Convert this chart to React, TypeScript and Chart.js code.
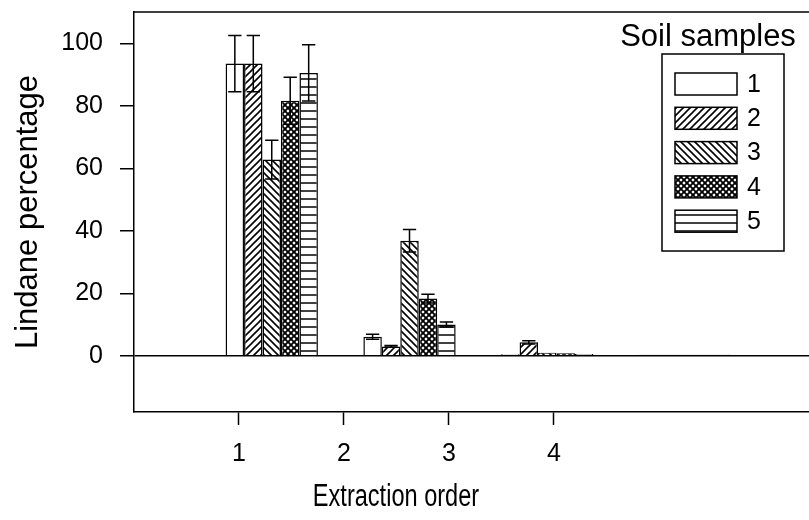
import React, { useEffect, useRef } from 'react';
import { Chart, registerables } from 'chart.js';

Chart.register(...registerables);

// ---- data ----
const extractionOrders = [1, 2, 3, 4];
const sampleLabels = ['1', '2', '3', '4', '5'];
const sample1 = [93.5, 6.1, 0.5, 0.3];
const sample2 = [93.5, 3.0, 4.3, 0.3];
const sample3 = [62.8, 36.8, 1.0, 0.3];
const sample4 = [81.6, 18.3, 0.8, 0.3];
const sample5 = [90.5, 10.0, 0.6, 0.3];
const err1 = [9.0, 0.8, 0, 0];
const err2 = [9.0, 0.3, 0.5, 0];
const err3 = [6.2, 3.6, 0, 0];
const err4 = [7.5, 1.4, 0, 0];
const err5 = [9.0, 0.8, 0, 0];
const yTicks = [0, 20, 40, 60, 80, 100];
const xTicks = [1, 2, 3, 4];
const yTitle = 'Lindane percentage';
const xTitle = 'Extraction order';
const legendTitle = 'Soil samples';

const FONT = "'Liberation Sans', Arial, Helvetica, sans-serif";

function makePattern(kind: number): CanvasPattern | string {
  if (kind === 1) return '#ffffff';
  const c = document.createElement('canvas');
  const s = kind === 5 ? 8 : kind === 4 ? 6 : 7;
  c.width = s;
  c.height = s;
  const g = c.getContext('2d')!;
  g.fillStyle = '#ffffff';
  g.fillRect(0, 0, s, s);
  g.strokeStyle = '#000000';
  g.lineCap = 'square';
  g.beginPath();
  if (kind === 2) {
    g.lineWidth = 1.6;
    g.moveTo(0, s); g.lineTo(s, 0);
    g.moveTo(-1, 1); g.lineTo(1, -1);
    g.moveTo(s - 1, s + 1); g.lineTo(s + 1, s - 1);
  } else if (kind === 3) {
    g.lineWidth = 1.6;
    g.moveTo(0, 0); g.lineTo(s, s);
    g.moveTo(-1, s - 1); g.lineTo(1, s + 1);
    g.moveTo(s - 1, -1); g.lineTo(s + 1, 1);
  } else if (kind === 4) {
    g.lineWidth = 1.9;
    g.moveTo(0, 0); g.lineTo(s, s);
    g.moveTo(0, s); g.lineTo(s, 0);
    g.moveTo(-1, s - 1); g.lineTo(1, s + 1);
    g.moveTo(s - 1, -1); g.lineTo(s + 1, 1);
    g.moveTo(-1, 1); g.lineTo(1, -1);
    g.moveTo(s - 1, s + 1); g.lineTo(s + 1, s - 1);
  } else {
    g.lineWidth = 1.5;
    g.moveTo(0, s - 1); g.lineTo(s, s - 1);
  }
  g.stroke();
  return g.createPattern(c, 'repeat')!;
}

export default function App() {
  const ref = useRef<HTMLCanvasElement>(null);

  useEffect(() => {
    const canvas = ref.current!;
    const series = [sample1, sample2, sample3, sample4, sample5];
    const errors = [err1, err2, err3, err4, err5];
    const patterns = [1, 2, 3, 4, 5].map(makePattern);

    const datasets = series.map((vals, i) => ({
      label: sampleLabels[i],
      data: vals.map((v, j) => ({ x: extractionOrders[j], y: v })),
      backgroundColor: patterns[i] as any,
      borderColor: '#000000',
      borderWidth: 1.5,
      xAxisID: 'xb',
      yAxisID: 'y',
      errors: errors[i],
      categoryPercentage: 0.67,
      barPercentage: 1,
    }));

    const extras = {
      id: 'extras',
      afterDatasetsDraw(chart: any) {
        const ctx = chart.ctx;
        const ys = chart.scales.y;
        ctx.save();
        ctx.strokeStyle = '#000';
        ctx.lineWidth = 1.5;
        chart.data.datasets.forEach((ds: any, i: number) => {
          const meta = chart.getDatasetMeta(i);
          meta.data.forEach((el: any, j: number) => {
            const e = ds.errors[j];
            if (!e) return;
            const v = ds.data[j].y;
            const top = ys.getPixelForValue(v + e);
            const bot = ys.getPixelForValue(v - e);
            const cap = el.width * 0.36;
            ctx.beginPath();
            ctx.moveTo(el.x, top); ctx.lineTo(el.x, bot);
            ctx.moveTo(el.x - cap, top); ctx.lineTo(el.x + cap, top);
            ctx.moveTo(el.x - cap, bot); ctx.lineTo(el.x + cap, bot);
            ctx.stroke();
          });
        });
        ctx.restore();
      },
      afterDraw(chart: any) {
        const ctx = chart.ctx;
        const ca = chart.chartArea;
        ctx.save();
        // top frame line
        ctx.strokeStyle = '#000';
        ctx.lineWidth = 1.5;
        ctx.beginPath();
        ctx.moveTo(ca.left, ca.top);
        ctx.lineTo(ca.right, ca.top);
        ctx.stroke();
        // x title (condensed sans)
        ctx.fillStyle = '#000';
        ctx.font = `31px ${FONT}`;
        ctx.textAlign = 'center';
        ctx.textBaseline = 'middle';
        ctx.save();
        ctx.translate(396, 497);
        ctx.scale(0.76, 1);
        ctx.fillText(xTitle, 0, 0);
        ctx.restore();
        // legend
        const bx = 662, by = 54, bw = 122, bh = 197;
        ctx.fillStyle = '#fff';
        ctx.fillRect(bx, by, bw, bh);
        ctx.strokeRect(bx, by, bw, bh);
        ctx.fillStyle = '#000';
        ctx.font = `31px ${FONT}`;
        ctx.textAlign = 'center';
        ctx.fillText(legendTitle, 708, 37);
        chart.data.datasets.forEach((ds: any, i: number) => {
          const sy = 73 + i * 34.3;
          ctx.fillStyle = ds.backgroundColor;
          ctx.fillRect(675, sy, 62, 22);
          ctx.strokeRect(675, sy, 62, 22);
          ctx.fillStyle = '#000';
          ctx.font = `25px ${FONT}`;
          ctx.textAlign = 'left';
          ctx.fillText(ds.label, 747, sy + 12);
        });
        ctx.restore();
      },
    };

    const chart = new Chart(canvas, {
      type: 'bar',
      data: { datasets: datasets as any },
      plugins: [extras],
      options: {
        animation: false,
        responsive: false,
        maintainAspectRatio: false,
        layout: { padding: { top: 12, left: 0, right: 0, bottom: 0 } },
        plugins: { legend: { display: false }, tooltip: { enabled: false } },
        scales: {
          xb: {
            type: 'linear',
            axis: 'x',
            display: false,
            min: 0,
            max: 4.9,
            offset: false,
            grid: { offset: false },
            afterBuildTicks: (s: any) => { s.ticks = extractionOrders.map((v) => ({ value: v })); },
          },
          x: {
            type: 'linear',
            position: 'bottom',
            min: 0,
            max: 6.43,
            offset: false,
            afterBuildTicks: (s: any) => { s.ticks = xTicks.map((v) => ({ value: v })); },
            afterFit: (s: any) => { s.height = 108; s.paddingLeft = 0; s.paddingRight = 0; },
            grid: {
              offset: false,
              drawOnChartArea: false,
              drawTicks: true,
              tickLength: 13,
              color: '#000',
              tickColor: '#000',
              tickWidth: 1.5,
            },
            border: { display: true, color: '#000', width: 1.5 },
            ticks: {
              color: '#000',
              font: { family: FONT, size: 25 },
              padding: 14,
              maxRotation: 0,
              autoSkip: false,
            },
          },
          y: {
            type: 'linear',
            min: -18,
            max: 110,
            afterBuildTicks: (s: any) => { s.ticks = yTicks.map((v) => ({ value: v })); },
            afterFit: (s: any) => { s.width = 134; s.paddingTop = 0; s.paddingBottom = 0; },
            grid: {
              drawOnChartArea: true,
              drawTicks: true,
              tickLength: 14,
              color: (c: any) => (c.tick && c.tick.value === 0 ? '#000' : 'rgba(0,0,0,0)'),
              lineWidth: 1.5,
              tickColor: '#000',
              tickWidth: 1.5,
            },
            border: { display: true, color: '#000', width: 1.5 },
            ticks: {
              color: '#000',
              font: { family: FONT, size: 25 },
              padding: 17,
            },
            title: {
              display: true,
              text: yTitle,
              color: '#000',
              font: { family: FONT, size: 31 },
              padding: { top: 10, bottom: 0 },
            },
          },
        },
      },
    });
    return () => chart.destroy();
  }, []);

  return (
    <div style={{ position: 'fixed', left: 0, top: 0, width: 809, height: 520, background: '#fff' }}>
      <canvas ref={ref} width={809} height={520} style={{ width: 809, height: 520, display: 'block' }} />
    </div>
  );
}
